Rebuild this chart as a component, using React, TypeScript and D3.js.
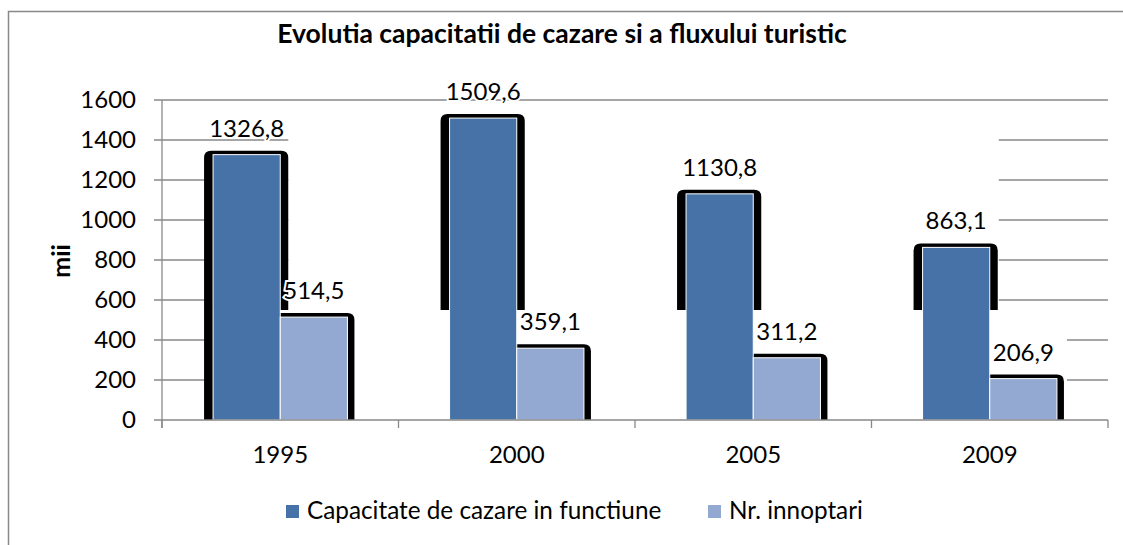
import React from 'react';
import * as d3 from 'd3';

const ani = ['1995', '2000', '2005', '2009'];
const capacitate = [1326.8, 1509.6, 1130.8, 863.1];
const innoptari = [514.5, 359.1, 311.2, 206.9];
const serii = ['Capacitate de cazare in functiune', 'Nr. innoptari'];
const culori = ['#4672a8', '#94a9d1'];
const tickuriY = [0, 200, 400, 600, 800, 1000, 1200, 1400, 1600];

const W = 1123;
const H = 545;
const font = 'Lato, "Open Sans", sans-serif';
const gri = '#888888';

// dreptunghi cu colturile de sus rotunjite (umbra barelor)
const umbraPath = (x: number, y: number, w: number, h: number, r: number) =>
  `M${x},${y + h} L${x},${y + r} Q${x},${y} ${x + r},${y} L${x + w - r},${y} Q${x + w},${y} ${x + w},${y + r} L${x + w},${y + h} Z`;

const fmt = (v: number) => v.toFixed(1).replace('.', ',');

export default function App() {
  const x = d3.scaleBand().domain(ani).range([162, 1108]).padding(0);
  const xs = d3.scaleBand().domain(serii).range([0, x.bandwidth()]).paddingInner(0).paddingOuter(0.76);
  const y = d3.scaleLinear().domain([0, 1600]).range([420, 100]);
  const bw = xs.bandwidth();

  const valori = [capacitate, innoptari];
  const bare = ani.flatMap((an, i) =>
    serii.map((s, k) => ({ an, serie: k, v: valori[k][i], x: (x(an) ?? 0) + (xs(s) ?? 0) }))
  );
  const inchise = bare.filter(b => b.serie === 0);
  const deschise = bare.filter(b => b.serie === 1);

  const prima = inchise[0];
  const ultima = deschise[deschise.length - 1];

  return (
    <svg width={W} height={H} style={{ position: 'absolute', left: 0, top: 0, background: '#fff' }}>
      <rect x={8.5} y={11.5} width={W + 10} height={H + 10} fill="#fff" stroke={gri} strokeWidth={1.5} />

      <text x={562} y={43} textAnchor="middle" fontFamily={font} fontWeight="bold" fontSize={26.5}>
        Evolutia capacitatii de cazare si a fluxului turistic
      </text>

      {tickuriY.filter(t => t > 0).map(t => (
        <line key={t} x1={154} x2={1108} y1={y(t)} y2={y(t)} stroke={gri} strokeWidth={1.3} />
      ))}

      {/* zona alba dintre bare */}
      <rect x={prima.x + bw + 8} y={y(1500)} width={ultima.x + 9 - (prima.x + bw + 8)} height={y(0) - y(1500)} fill="#fff" />

      {inchise.map(b => (
        <path key={'u' + b.an} d={umbraPath(b.x - 9, y(b.v) - 4, bw + 17, y(0) - y(b.v) + 4, 7)} fill="#000" />
      ))}

      <rect x={prima.x} y={y(550)} width={ultima.x + bw + 10 - prima.x} height={y(0) - y(550)} fill="#fff" />

      {deschise.map(b => (
        <path key={'u' + b.an} d={umbraPath(b.x - 9, y(b.v) - 4, bw + 16, y(0) - y(b.v) + 4, 7)} fill="#000" />
      ))}

      {bare.map(b => (
        <rect key={b.an + b.serie} x={b.x} y={y(b.v)} width={bw} height={y(0) - y(b.v)}
          fill={culori[b.serie]} stroke="#fff" strokeWidth={1} />
      ))}

      <line x1={154} x2={1108} y1={y(0)} y2={y(0)} stroke={gri} strokeWidth={1.3} />
      <line x1={162} x2={162} y1={y(1600)} y2={428} stroke={gri} strokeWidth={1.3} />
      {[...ani.map(a => x(a) ?? 0), 1108].map((p, i) => (
        <line key={i} x1={p} x2={p} y1={y(0)} y2={428} stroke={gri} strokeWidth={1.3} />
      ))}

      {tickuriY.map(t => (
        <text key={t} x={136} y={y(t) + 8} textAnchor="end" fontFamily={font} fontSize={24}>{t}</text>
      ))}
      {ani.map(a => (
        <text key={a} x={(x(a) ?? 0) + x.bandwidth() / 2} y={463} textAnchor="middle" fontFamily={font} fontSize={24}>{a}</text>
      ))}
      <text transform="translate(70,261) rotate(-90)" textAnchor="middle" fontFamily={font} fontWeight="bold" fontSize={25}>mii</text>

      {bare.map(b => (
        <text key={'l' + b.an + b.serie} x={b.x + bw / 2} y={y(b.v) - 18} textAnchor="middle"
          fontFamily={font} fontSize={24} stroke="#fff" strokeWidth={4} paintOrder="stroke">{fmt(b.v)}</text>
      ))}

      {serii.map((s, k) => {
        const lx = k === 0 ? 286 : 708;
        return (
          <g key={s}>
            <rect x={lx} y={505} width={13} height={13} fill={culori[k]} />
            <text x={lx + 21} y={519} fontFamily={font} fontSize={24.3}>{s}</text>
          </g>
        );
      })}
    </svg>
  );
}
